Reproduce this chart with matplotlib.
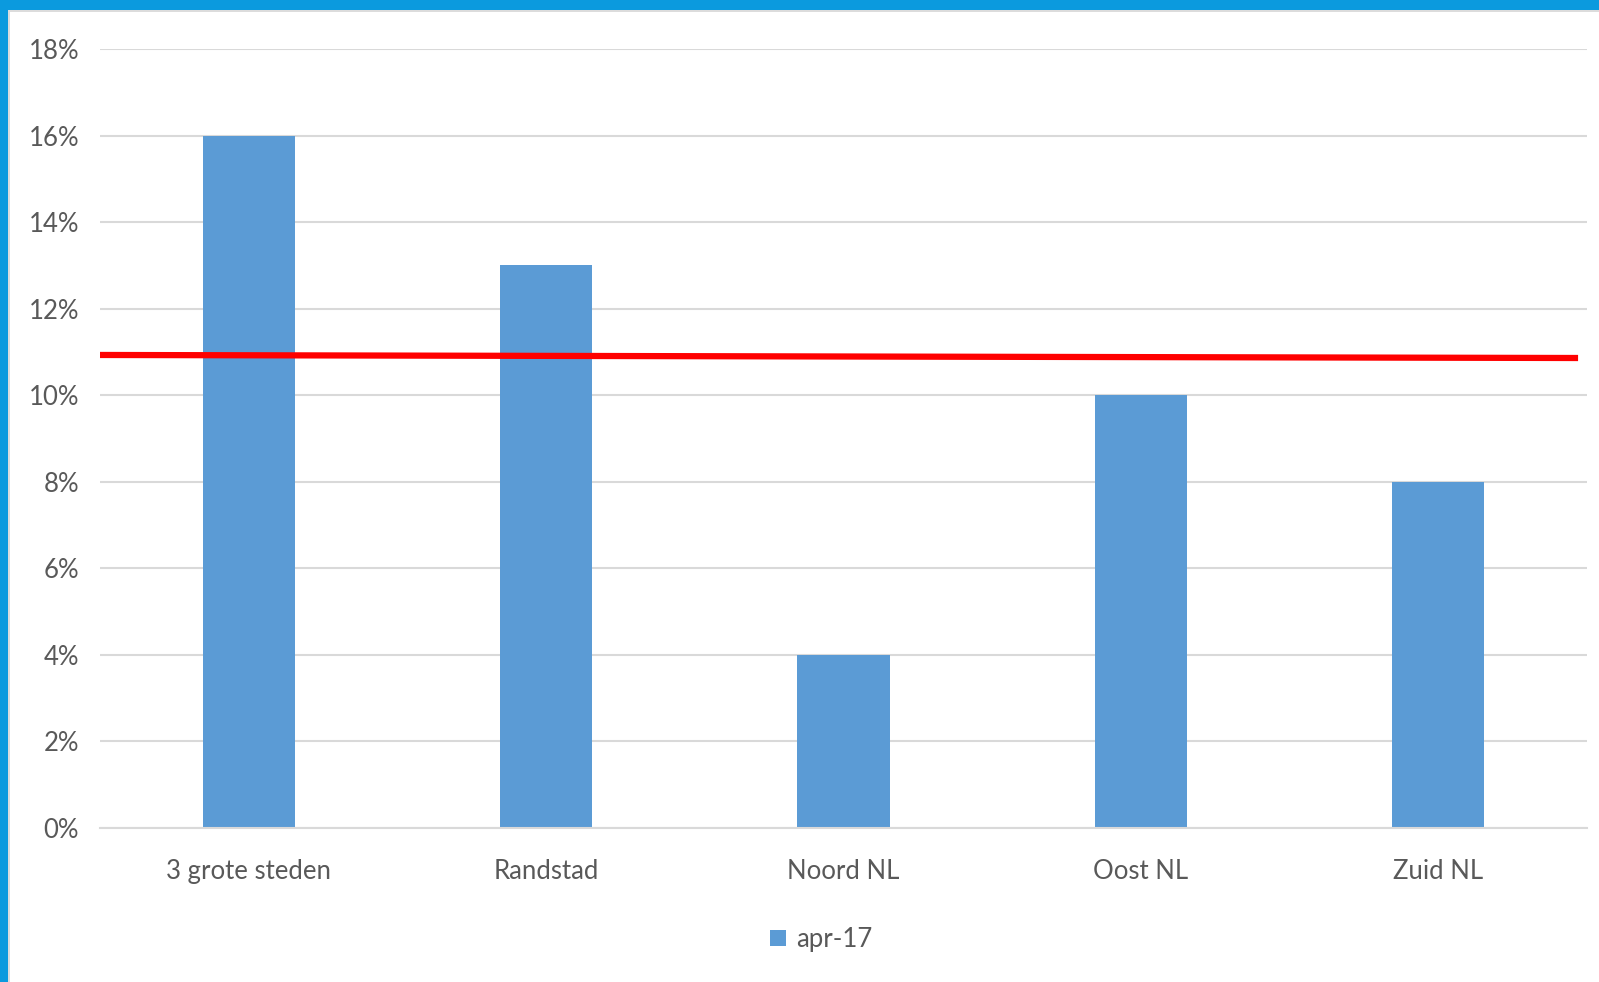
import matplotlib
matplotlib.use("Agg")
import matplotlib.pyplot as plt
from matplotlib.patches import Rectangle

# Chart data
regions = ["3 grote steden", "Randstad", "Noord NL", "Oost NL", "Zuid NL"]
apr17 = [16, 13, 4, 10, 8]
series_name = "apr-17"
# national average line (slightly sloped in the original)
avg_x = [-0.5, 4.47]
avg_y = [10.93, 10.86]
yticks = [0, 2, 4, 6, 8, 10, 12, 14, 16, 18]

BAR_COLOR = "#5b9bd5"
TEXT_COLOR = "#595959"
GRID_COLOR = "#d9d9d9"
FRAME_BLUE = "#0b9ade"

plt.rcParams["font.family"] = ["Lato", "DejaVu Sans"]

W, H = 1599, 982
fig = plt.figure(figsize=(W / 100, H / 100), dpi=100)
fig.patch.set_facecolor("white")

# blue frame along top and left edge, with thin grey shadow
fig.patches.append(Rectangle((0, 1 - 12 / H), 1, 12 / H, transform=fig.transFigure,
                             facecolor="#dcdcdc", edgecolor="none", zorder=0))
fig.patches.append(Rectangle((0, 0), 10 / W, 1, transform=fig.transFigure,
                             facecolor="#dcdcdc", edgecolor="none", zorder=0))
fig.patches.append(Rectangle((0, 1 - 10 / H), 1, 10 / H, transform=fig.transFigure,
                             facecolor=FRAME_BLUE, edgecolor="none", zorder=1))
fig.patches.append(Rectangle((0, 0), 8 / W, 1, transform=fig.transFigure,
                             facecolor=FRAME_BLUE, edgecolor="none", zorder=1))

ax = fig.add_axes([100 / W, 1 - 828 / H, 1487 / W, 779 / H])
x = range(len(regions))
ax.bar(x, apr17, width=0.31, color=BAR_COLOR, label=series_name, zorder=2)
ax.plot(avg_x, avg_y, color="#ff0000", linewidth=4.5, zorder=3, solid_capstyle="butt")

ax.set_xlim(-0.5, len(regions) - 0.5)
ax.set_ylim(0, 18)
ax.set_yticks(yticks)
ax.set_yticklabels([f"{v}%" for v in yticks])
ax.set_xticks(list(x))
ax.set_xticklabels(regions)
ax.yaxis.grid(True, color=GRID_COLOR, linewidth=1.5, zorder=0)
ax.set_axisbelow(True)
for side in ["top", "right", "left"]:
    ax.spines[side].set_visible(False)
ax.spines["bottom"].set_color(GRID_COLOR)
ax.spines["bottom"].set_linewidth(1.5)
ax.tick_params(axis="both", length=0, labelsize=18.5, colors=TEXT_COLOR)
ax.tick_params(axis="y", pad=15)
ax.tick_params(axis="x", pad=22)

leg = ax.legend(loc="center", bbox_to_anchor=(0.485, -0.143), frameon=False,
                fontsize=18.5, handlelength=0.6, handleheight=0.6, handletextpad=0.4)
for t in leg.get_texts():
    t.set_color(TEXT_COLOR)

fig.savefig("out.png", dpi=100)
